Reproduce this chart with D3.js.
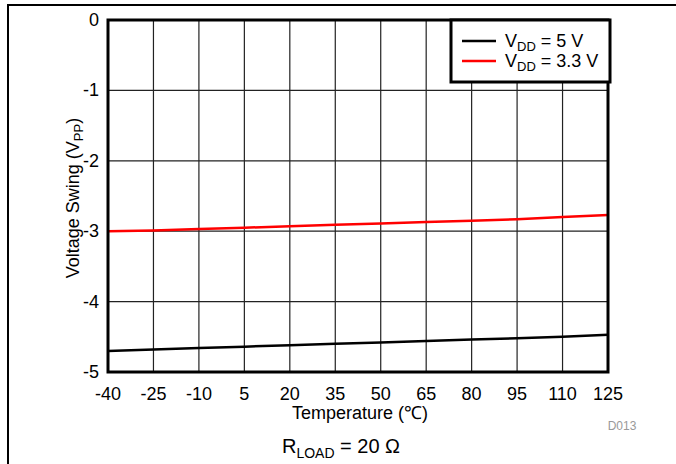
<!DOCTYPE html>
<html>
<head>
<meta charset="utf-8">
<script src="https://cdn.jsdelivr.net/npm/d3@7"></script>
<style>
  body { margin: 0; background: #fff; }
  text { font-family: "Liberation Sans", Arial, sans-serif; }
</style>
</head>
<body>
<svg id="chart" width="676" height="464"></svg>
<script>
// Temperature ticks (°C)
const temps = [-40, -25, -10, 5, 20, 35, 50, 65, 80, 95, 110, 125];
// Voltage swing (Vpp)
const swing5V = [-4.70, -4.68, -4.66, -4.64, -4.62, -4.60, -4.58, -4.56, -4.54, -4.52, -4.50, -4.47];
const swing33V = [-3.00, -2.99, -2.97, -2.95, -2.93, -2.91, -2.89, -2.87, -2.85, -2.83, -2.80, -2.77];
const yTicks = [0, -1, -2, -3, -4, -5];
const seriesNames = ["5 V", "3.3 V"];
const seriesColors = ["#000000", "#ff0000"];

const svg = d3.select("#chart");

// outer frame (top and left edges only)
svg.append("path")
  .attr("d", "M8,464 L8,5 L676,5")
  .attr("fill", "none")
  .attr("stroke", "#000")
  .attr("stroke-width", 2);

const plotL = 108, plotR = 608, plotT = 20, plotB = 372;

const x = d3.scaleLinear().domain([-40, 125]).range([plotL, plotR]);
const y = d3.scaleLinear().domain([-5, 0]).range([plotB, plotT]);

// grid
const grid = svg.append("g");
grid.selectAll(".vg").data(temps.slice(1, -1)).join("line")
  .attr("x1", d => x(d)).attr("x2", d => x(d))
  .attr("y1", plotT).attr("y2", plotB)
  .attr("stroke", "#222").attr("stroke-width", 1.2);
grid.selectAll(".hg").data(yTicks.slice(1, -1)).join("line")
  .attr("x1", plotL).attr("x2", plotR)
  .attr("y1", d => y(d)).attr("y2", d => y(d))
  .attr("stroke", "#222").attr("stroke-width", 1.2);

// series
const line = d3.line().x((d, i) => x(temps[i])).y(d => y(d));
[swing5V, swing33V].forEach((s, k) => {
  svg.append("path")
    .datum(s)
    .attr("d", line)
    .attr("fill", "none")
    .attr("stroke", seriesColors[k])
    .attr("stroke-width", 2.5);
});

// plot border
svg.append("rect")
  .attr("x", plotL).attr("y", plotT)
  .attr("width", plotR - plotL).attr("height", plotB - plotT)
  .attr("fill", "none").attr("stroke", "#000").attr("stroke-width", 3);

// tick labels
svg.append("g").selectAll("text").data(temps).join("text")
  .attr("x", d => x(d)).attr("y", plotB + 28)
  .attr("text-anchor", "middle")
  .attr("font-size", 18)
  .text(d => d);

svg.append("g").selectAll("text").data(yTicks).join("text")
  .attr("x", plotL - 9).attr("y", d => y(d) + 6)
  .attr("text-anchor", "end")
  .attr("font-size", 18)
  .text(d => d);

// axis titles
svg.append("text")
  .attr("x", (plotL + plotR) / 2 + 2).attr("y", 419)
  .attr("text-anchor", "middle").attr("font-size", 18)
  .text("Temperature (\u2103)");

const yt = svg.append("text")
  .attr("transform", `translate(79,${(plotT + plotB) / 2 + 2}) rotate(-90)`)
  .attr("text-anchor", "middle").attr("font-size", 18);
yt.append("tspan").text("Voltage Swing (V");
yt.append("tspan").attr("font-size", 13).attr("dy", 4).text("PP");
yt.append("tspan").attr("dy", -4).text(")");

svg.append("text")
  .attr("x", 622).attr("y", 430)
  .attr("text-anchor", "middle").attr("font-size", 12)
  .attr("fill", "#999")
  .text("D013");

const rl = svg.append("text")
  .attr("x", 341).attr("y", 453)
  .attr("text-anchor", "middle").attr("font-size", 20);
rl.append("tspan").text("R");
rl.append("tspan").attr("font-size", 14).attr("dy", 5).text("LOAD");
rl.append("tspan").attr("dy", -5).text(" = 20 \u03A9");

// legend
const lg = svg.append("g");
lg.append("rect")
  .attr("x", 451).attr("y", 20).attr("width", 159).attr("height", 62)
  .attr("fill", "#fff").attr("stroke", "#000").attr("stroke-width", 3);
seriesNames.forEach((name, k) => {
  const ly = 41 + k * 20;
  lg.append("line")
    .attr("x1", 462).attr("x2", 496).attr("y1", ly).attr("y2", ly)
    .attr("stroke", seriesColors[k]).attr("stroke-width", 2.5);
  const t = lg.append("text").attr("x", 505).attr("y", ly + 6).attr("font-size", 18);
  t.append("tspan").text("V");
  t.append("tspan").attr("font-size", 13).attr("dy", 4).text("DD");
  t.append("tspan").attr("dy", -4).text(" = " + name);
});
</script>
</body>
</html>
